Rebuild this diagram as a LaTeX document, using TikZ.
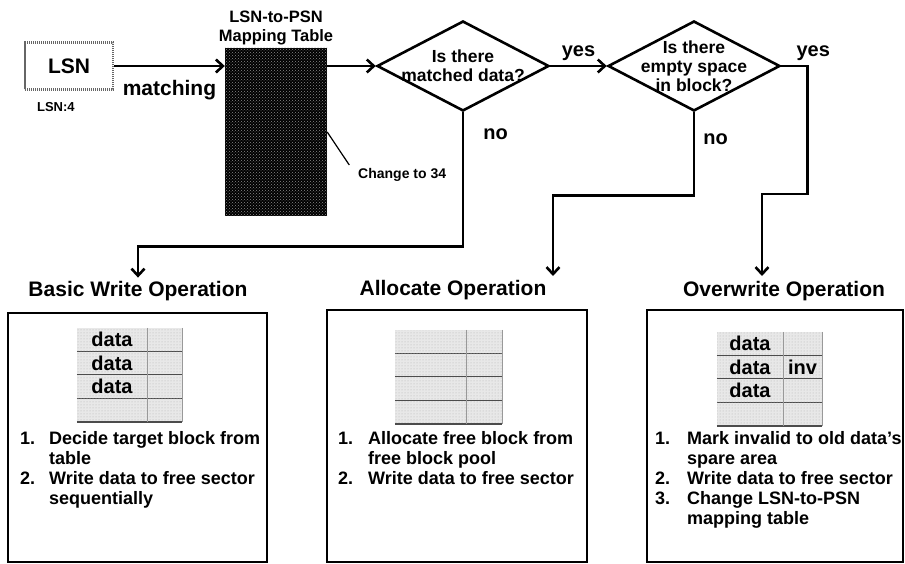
\documentclass[tikz,border=0pt]{standalone}
\usepackage{fontspec}
\setmainfont{Liberation Sans}
\usetikzlibrary{arrows.meta,positioning,shapes.geometric,patterns}

\newcommand{\titlefont}{\fontsize{21}{24}\selectfont\bfseries}
\newcommand{\listfont}{\fontsize{18}{20}\selectfont\bfseries}
\newcommand{\askfont}{\fontsize{17.5}{19}\selectfont\bfseries}
\newcommand{\tagfont}{\fontsize{20}{22}\selectfont\bfseries}
\newcommand{\cellfont}{\fontsize{20}{22}\selectfont\bfseries}

\tikzset{
  flow/.style={line width=2.6pt, -{Straight Barb[length=7pt,width=13pt]}},
  leader/.style={line width=1.2pt},
  lsnbox/.style={draw=black!60, dash pattern=on 1.2pt off 0.8pt, line width=2.2pt, minimum width=88pt,
    minimum height=47pt, font=\fontsize{21}{24}\selectfont\bfseries},
  maptable/.style={fill=black, minimum width=102pt, minimum height=168pt, inner sep=0,
    postaction={pattern=crosshatch dots, pattern color=black!45}},
  decide/.style={diamond, draw, line width=2.6pt, minimum width=172pt, minimum height=90pt, inner sep=0},
  asktext/.style={align=center, inner sep=0, font=\askfont},
  tag/.style={inner sep=2pt, font=\tagfont},
  optitle/.style={inner sep=3pt, font=\titlefont},
  opbox/.style={draw, line width=1.6pt, inner sep=0},
  steps/.style={anchor=north west, inner sep=0, font=\listfont},
  cell/.style={fill=gray!18, inner sep=0, minimum height=23.5pt, font=\cellfont,
    postaction={pattern=dots, pattern color=gray!60}},
  cellrule/.style={line width=2pt, black!70},
  celledge/.style={line width=1pt, gray!80},
}

% sector table: x, y (top left), left width, right width, rows
\newcommand{\sectortable}[5]{%
  \foreach \lft/\rgt [count=\n from 0] in {#5} {
    \node[cell, minimum width=#3pt] (cl\n) at (#1+#3/2, #2+\n*23.5+11.75) {\lft};
    \node[cell, minimum width=#4pt] (cr\n) at (#1+#3+#4/2, #2+\n*23.5+11.75) {\rgt};
    \draw[cellrule] (cl\n.south west) -- (cr\n.south east);
    \draw[celledge] (cl\n.north east) -- (cl\n.south east);
    \draw[celledge] (cr\n.north east) -- (cr\n.south east);
  }}

\begin{document}
\begin{tikzpicture}[x=1pt, y=-1pt]
  \useasboundingbox (0,0) rectangle (905,564);

  % lookup
  \node[lsnbox] (lsn) at (69,66) {LSN};
  \node[inner sep=1pt, font=\fontsize{13}{15}\selectfont\bfseries,
    below right=11pt and 12pt of lsn.south west] (lsnval) {LSN:4};
  \node[maptable] (maptab) at (276,132) {};
  \node[align=center, inner sep=1pt, font=\fontsize{16.5}{19}\selectfont\bfseries,
    above=1.5pt of maptab] (maptitle) {LSN-to-PSN\\Mapping Table};
  \node[anchor=west, inner sep=2pt, font=\fontsize{14}{16}\selectfont\bfseries] (chg) at (356,175) {Change to 34};
  \draw[flow] (lsn.east) -- (lsn.east -| maptab.west)
    node[midway, below=11pt, inner sep=2pt, font=\fontsize{21}{24}\selectfont\bfseries] {matching};
  \draw[leader, shorten >=12pt] (maptab.east) -- (chg.west);

  % decisions
  \node[decide] (dmatch) at (463,66) {};
  \node[asktext] (qmatch) at (dmatch) {Is there\\matched data?};
  \node[decide] (dspace) at (694,66) {};
  \node[asktext] (qspace) at (dspace) {Is there\\empty space\\in block?};
  \draw[flow] (dmatch.west -| maptab.east) -- (dmatch.west);
  \draw[flow] (dmatch.east) -- (dspace.west) node[midway, above=2pt, tag] {yes};

  % operations
  \node[optitle, anchor=base] (basictitle) at (138,296) {Basic Write Operation};
  \node[optitle, anchor=base] (alloctitle) at (453,295) {Allocate Operation};
  \node[optitle, anchor=base] (overtitle) at (784,296) {Overwrite Operation};
  \coordinate (allocin) at (553,276);
  \coordinate (overin) at (762,276);
  \node[opbox, minimum width=259pt, minimum height=249pt] (basic) at (137.5,437.5) {};
  \node[opbox, minimum width=260pt, minimum height=252pt] (alloc) at (457,436) {};
  \node[opbox, minimum width=256pt, minimum height=252pt] (over) at (775,436) {};

  \draw[flow] (dmatch.south) -- ++(0,134) node[pos=0.16, right=17pt, tag] {no} -| (basictitle.north);
  \draw[flow] (dspace.south) -- ++(0,83) node[pos=0.33, right=6pt, tag] {no} -| (allocin);
  \draw[flow] (dspace.east) -- ++(26,0) node[pos=1, above=2pt, xshift=6pt, tag] {yes}
    -- ++(0,128) -| (overin);

  \sectortable{77}{328}{70}{35}{data/, data/, data/, /}
  \sectortable{395}{330}{71}{36}{/, /, /, /}
  \sectortable{717}{332}{66}{39}{data/, data/inv, data/, /}

  \node[steps] (basiclist) at (20,430) {\begin{tabular}{@{}p{29pt}@{}l@{}}
    1. & Decide target block from\\ & table\\
    2. & Write data to free sector\\ & sequentially\end{tabular}};
  \node[steps] (alloclist) at (338,430) {\begin{tabular}{@{}p{30pt}@{}l@{}}
    1. & Allocate free block from\\ & free block pool\\
    2. & Write data to free sector\end{tabular}};
  \node[steps] (overlist) at (655,430) {\begin{tabular}{@{}p{32pt}@{}l@{}}
    1. & Mark invalid to old data's\\ & spare area\\
    2. & Write data to free sector\\
    3. & Change LSN-to-PSN\\ & mapping table\end{tabular}};
\end{tikzpicture}
\end{document}
